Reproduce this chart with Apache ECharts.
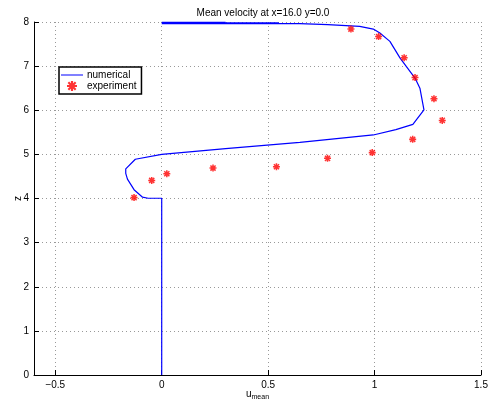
<!DOCTYPE html>
<html><head><meta charset="utf-8">
<script src="https://cdn.jsdelivr.net/npm/echarts@6/dist/echarts.min.js"></script>
<style>html,body{margin:0;padding:0;background:#fff}#c{width:496px;height:408px}</style>
</head><body><div id="c"></div>
<script>
// numerical profile (u, z)
const numU = [0, 0, -0.064, -0.09, -0.13, -0.161, -0.169, -0.169, -0.124, 0, 0.3, 0.649, 0.994, 1.10, 1.18, 1.232, 1.213, 1.19, 1.12, 1.072, 1.025, 0.994, 0.93, 0.78, 0.649, 0, 0.55, 0, 0.3, 0];
const numZ = [0, 4.006, 4.006, 4.03, 4.2, 4.44, 4.57, 4.67, 4.89, 5.0, 5.13, 5.27, 5.44, 5.56, 5.68, 6.01, 6.50, 6.73, 7.18, 7.56, 7.75, 7.84, 7.90, 7.94, 7.965, 7.965, 7.98, 7.99, 8.0, 8.0];
// experiment (u, z)
const expU = [-0.130, -0.047, 0.024, 0.241, 0.539, 0.779, 0.989, 1.179, 1.318, 1.279, 1.19, 1.139, 1.019, 0.889];
const expZ = [4.02, 4.41, 4.56, 4.69, 4.72, 4.91, 5.04, 5.34, 5.77, 6.26, 6.74, 7.19, 7.67, 7.84];
const xTicks = [-0.5, 0, 0.5, 1, 1.5];
const yTicks = [0, 1, 2, 3, 4, 5, 6, 7, 8];

const numData = numU.map((u, i) => [u, numZ[i]]);
const expData = expU.map((u, i) => [u, expZ[i]]);

const star = 'path://M0,3.9H10V6.1H0Z M3.9,0H6.1V10H3.9Z M0.6,2.1L2.1,0.6L9.4,7.9L7.9,9.4Z M7.9,0.6L9.4,2.1L2.1,9.4L0.6,7.9Z';
const font = 'Liberation Sans, Arial, sans-serif';

const chart = echarts.init(document.getElementById('c'), null, {renderer: 'canvas'});
chart.setOption({
  animation: false,
  backgroundColor: '#fff',
  title: {
    text: 'Mean velocity at x=16.0 y=0.0',
    left: 258, top: 3, textAlign: 'center',
    textStyle: {fontFamily: font, fontSize: 10, fontWeight: 'normal', color: '#000'}
  },
  grid: {left: 34, right: 15, top: 22, bottom: 33, containLabel: false, outerBoundsMode: 'none'},
  legend: {
    orient: 'vertical', left: 59, top: 67,
    backgroundColor: '#fff', borderColor: '#000', borderWidth: 1.5, borderRadius: 0,
    padding: [3, 5, 3, 2], itemGap: 1, itemWidth: 22, itemHeight: 10,
    textStyle: {fontFamily: font, fontSize: 10, color: '#000', padding: [0, 0, 0, -1]},
    data: [
      {name: 'numerical', icon: 'path://M0,4.5H22V5.5H0Z', itemStyle: {color: '#0000ff'}},
      {name: 'experiment', icon: star, itemStyle: {color: '#ff0000'}}
    ]
  },
  xAxis: {
    type: 'value', min: -0.6, max: 1.5, splitNumber: 5,
    name: 'u{s|mean}', nameLocation: 'middle', nameGap: 12, nameMoveOverlap: false,
    nameTextStyle: {fontFamily: font, fontSize: 10, color: '#000',
      rich: {s: {fontSize: 7, fontFamily: font, verticalAlign: 'bottom', padding: [7, 0, 0, 0]}}},
    axisLine: {show: true, onZero: false, lineStyle: {color: '#000', width: 1}},
    axisTick: {show: true, inside: true, length: 5, lineStyle: {color: '#000'}},
    axisLabel: {showMinLabel: false, fontFamily: font, fontSize: 10, color: '#000', margin: 5,
      formatter: v => (Math.abs(v + 0.6) < 1e-9 ? '' : String(v).replace('-', '\u2212'))},
    splitLine: {show: true, lineStyle: {color: '#999', type: [1, 3], width: 1}}
  },
  yAxis: {
    type: 'value', min: 0, max: 8, interval: 1,
    name: 'z', nameLocation: 'middle', nameGap: 11, nameRotate: 90, nameMoveOverlap: false,
    nameTextStyle: {fontFamily: font, fontSize: 10, color: '#000'},
    axisLine: {show: true, onZero: false, lineStyle: {color: '#000', width: 1}},
    axisTick: {show: true, inside: true, length: 5, lineStyle: {color: '#000'}},
    axisLabel: {fontFamily: font, fontSize: 10, color: '#000', margin: 5},
    splitLine: {show: true, lineStyle: {color: '#999', type: [1, 3], width: 1}}
  },
  series: [
    {name: 'numerical', type: 'line', data: numData, showSymbol: false, symbol: 'none',
      lineStyle: {color: '#0000ff', width: 1.2}, itemStyle: {color: '#0000ff'}, z: 3},
    {name: 'experiment', type: 'scatter', data: expData, symbol: star, symbolSize: 7,
      itemStyle: {color: '#ff0000'}, z: 4}
  ]
});
</script></body></html>
